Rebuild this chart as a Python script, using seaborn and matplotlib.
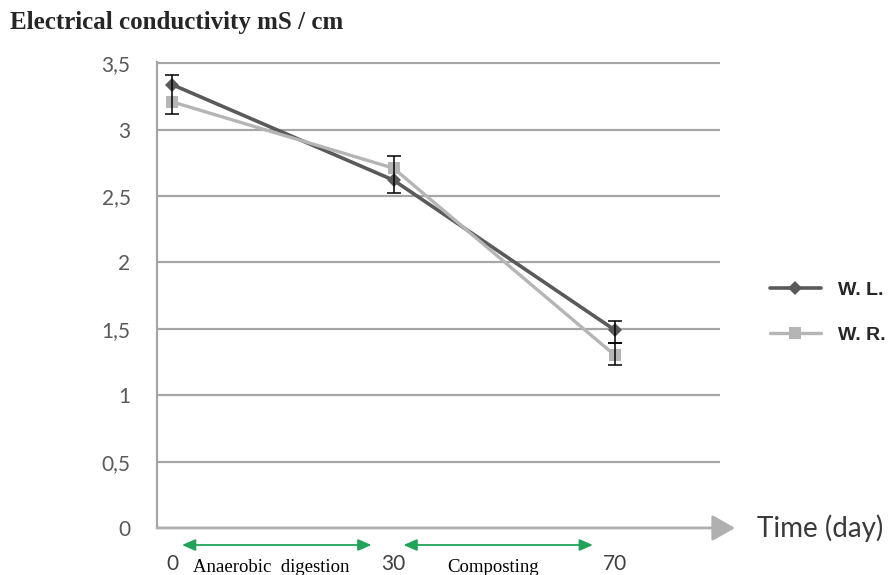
import numpy as np
import pandas as pd
import matplotlib
matplotlib.use('Agg')
import matplotlib.pyplot as plt
import seaborn as sns

# Values
days = ['0', '30', '70']
wl_values = [3.34, 2.62, 1.49]
wr_values = [3.21, 2.71, 1.30]
series_names = ['W. L.', 'W. R.']

# Error bars: category index, lower end, upper end
err_pos = [0, 1, 2, 2]
err_low = [3.12, 2.52, 1.39, 1.23]
err_high = [3.41, 2.80, 1.56, 1.39]

y_ticks = [0, 0.5, 1, 1.5, 2, 2.5, 3, 3.5]
y_labels = ['0', '0,5', '1', '1,5', '2', '2,5', '3', '3,5']
phases = ['Anaerobic  digestion', 'Composting']

sns.set_style('white')
plt.rcParams['font.family'] = ['Lato', 'DejaVu Sans']

fig = plt.figure(figsize=(8.95, 5.75), dpi=100)
ax = fig.add_axes([157 / 895, 1 - 528 / 575, (720 - 157) / 895, (528 - 62) / 575])

x_pos = list(range(len(days)))
# W. L. series (dark, diamonds)
sns.lineplot(x=x_pos, y=wl_values, color='#5a5a5a', marker='D', markersize=7.5,
             markeredgewidth=0, linewidth=2.6, label=series_names[0], ax=ax)
# W. R. series (light, squares)
sns.lineplot(x=x_pos, y=wr_values, color='#b5b5b5', marker='s', markersize=9,
             markeredgewidth=0, linewidth=2.4, label=series_names[1], ax=ax)

# Error bars
err_low = np.array(err_low)
err_high = np.array(err_high)
mid = (err_low + err_high) / 2
ax.errorbar(err_pos, mid, yerr=(err_high - err_low) / 2, fmt='none',
            ecolor='black', elinewidth=1.1, capsize=5, capthick=1.1, zorder=5)

# Axes look
ax.set_xlim(-0.068, 2.474)
ax.set_ylim(0, 3.51)
ax.set_yticks(y_ticks, y_labels)
ax.set_xticks(x_pos, days)
ax.set_xlabel('')
ax.set_ylabel('')
ax.yaxis.grid(True, color='#a6a6a6', linewidth=1.6)
ax.set_axisbelow(True)
for s in ['top', 'right', 'bottom']:
    ax.spines[s].set_visible(False)
ax.spines['left'].set_color('#a6a6a6')
ax.spines['left'].set_linewidth(1.6)
ax.tick_params(axis='y', length=0, pad=19, labelsize=15, labelcolor='#595959')
ax.tick_params(axis='x', length=0, pad=19, labelsize=15, labelcolor='#404040')

# Time axis arrow
ax.annotate('', xy=((735 - 157) / 563, 0), xytext=(0, 0), xycoords='axes fraction',
            arrowprops=dict(arrowstyle='-|>,head_length=1.4,head_width=0.8',
                            color='#b0b0b0', lw=2, mutation_scale=10,
                            shrinkA=0, shrinkB=0),
            annotation_clip=False)

# Phase arrows and labels
tr = ax.get_xaxis_transform()
for i, phase in enumerate(phases):
    ax.annotate('', xy=(i + 0.9, -0.0365), xytext=(i + 0.045, -0.0365), xycoords=tr,
                arrowprops=dict(arrowstyle='<|-|>,head_length=0.8,head_width=0.35',
                                color='#22a35a', lw=1.3, mutation_scale=10,
                                shrinkA=0, shrinkB=0),
                annotation_clip=False)
    ax.text(i + 0.45, -0.066, phase, transform=tr, ha='center', va='top',
            fontsize=13.5, family='Liberation Serif', color='black', clip_on=False)

# Legend
handles, labels = ax.get_legend_handles_labels()
ax.get_legend().remove()
leg = fig.legend(handles, labels, loc='center left', bbox_to_anchor=(770 / 895, 1 - 312.5 / 575),
                 frameon=False, borderpad=0, borderaxespad=0, handlelength=2.6,
                 handletextpad=0.9, labelspacing=1.4,
                 prop={'family': 'Liberation Sans', 'weight': 'bold', 'size': 14})

fig.text(757 / 895, 1 - 528 / 575, 'Time (day)', ha='left', va='center',
         fontsize=20, color='#3a3a3a')
fig.text(10 / 895, 1 - 22 / 575, 'Electrical conductivity mS / cm', ha='left', va='center',
         fontsize=18, fontweight='bold', family='Liberation Serif')

fig.savefig('out.png', dpi=100)
